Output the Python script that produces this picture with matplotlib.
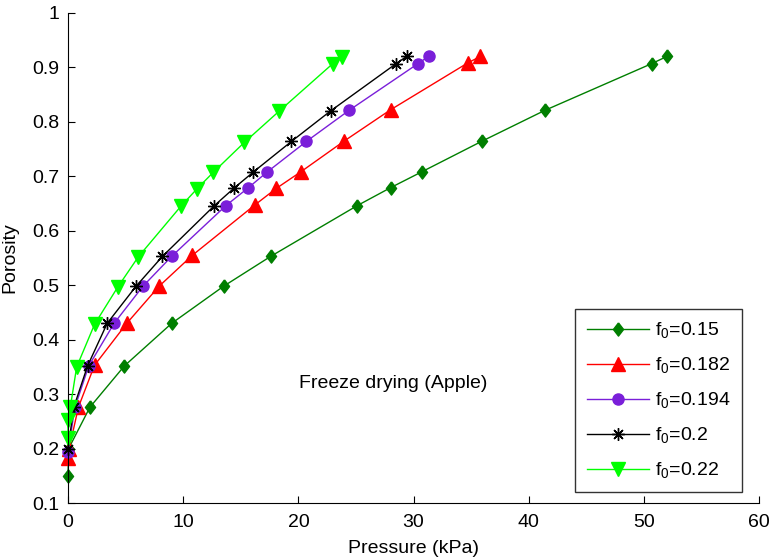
import matplotlib
matplotlib.use("Agg")
import matplotlib.pyplot as plt

# pressure (kPa) and porosity, one pair of lists per f0
p_015 = [0, 0.05, 1.9, 4.9, 9.0, 13.5, 17.6, 25.1, 28.0, 30.7, 35.9, 41.4, 50.7, 52.0]
phi_015 = [0.15, 0.2, 0.276, 0.352, 0.43, 0.498, 0.553, 0.646, 0.679, 0.708, 0.764, 0.821, 0.907, 0.92]

p_0182 = [0, 0.1, 0.9, 2.3, 5.1, 7.9, 10.8, 16.2, 18.1, 20.2, 24.0, 28.0, 34.7, 35.8]
phi_0182 = [0.182, 0.2, 0.276, 0.353, 0.43, 0.498, 0.555, 0.647, 0.678, 0.708, 0.765, 0.822, 0.908, 0.92]

p_0194 = [0, 0.6, 1.8, 4.0, 6.5, 9.0, 13.7, 15.6, 17.3, 20.7, 24.4, 30.4, 31.3]
phi_0194 = [0.194, 0.276, 0.352, 0.43, 0.498, 0.553, 0.646, 0.678, 0.708, 0.764, 0.821, 0.907, 0.92]

p_02 = [0, 0.5, 1.7, 3.4, 5.9, 8.2, 12.7, 14.4, 16.1, 19.4, 22.8, 28.5, 29.4]
phi_02 = [0.2, 0.276, 0.352, 0.43, 0.498, 0.553, 0.646, 0.678, 0.708, 0.764, 0.82, 0.907, 0.92]

p_022 = [0, 0, 0.2, 0.75, 2.3, 4.3, 6.1, 9.8, 11.2, 12.6, 15.3, 18.3, 23.0, 23.8]
phi_022 = [0.22, 0.252, 0.276, 0.35, 0.428, 0.496, 0.552, 0.645, 0.677, 0.707, 0.762, 0.819, 0.907, 0.919]

labels = [r'f$_\mathregular{0}$=0.15', r'f$_\mathregular{0}$=0.182', r'f$_\mathregular{0}$=0.194',
          r'f$_\mathregular{0}$=0.2', r'f$_\mathregular{0}$=0.22']

plt.rcParams['font.family'] = ['Liberation Sans', 'DejaVu Sans']
plt.rcParams['mathtext.fontset'] = 'custom'
plt.rcParams['mathtext.rm'] = 'Liberation Sans'

# matlab style diamond, a bit taller than wide
diamond = [(0, 1.3), (1, 0), (0, -1.3), (-1, 0), (0, 1.3)]

fig = plt.figure(figsize=(7.73, 5.59), dpi=100)
ax = fig.add_axes([0.088, 0.1, 0.894, 0.877])

ax.plot(p_015, phi_015, '-', marker=diamond, color='#007f00', markersize=9.5, lw=1,
        label=labels[0], clip_on=False)
ax.plot(p_0182, phi_0182, '-^', color='#ff0000', markersize=10, lw=1, label=labels[1], clip_on=False)
ax.plot(p_0194, phi_0194, '-o', color='#7a1fd9', markersize=8, lw=1, label=labels[2], clip_on=False)
ax.plot(p_02, phi_02, '-', color='black', marker=(8, 2, 0), markersize=9, mew=1,
        lw=1, label=labels[3], clip_on=False)
ax.plot(p_022, phi_022, '-v', color='#00ff00', markersize=10, lw=1, label=labels[4], clip_on=False)

ax.set_xlim(0, 60)
ax.set_ylim(0.1, 1)
ax.set_xticks([0, 10, 20, 30, 40, 50, 60])
ax.set_yticks([0.1, 0.2, 0.3, 0.4, 0.5, 0.6, 0.7, 0.8, 0.9, 1])
ax.set_yticklabels(['0.1', '0.2', '0.3', '0.4', '0.5', '0.6', '0.7', '0.8', '0.9', '1'])
ax.spines['top'].set_visible(False)
ax.spines['right'].set_visible(False)
ax.tick_params(direction='in', length=5, labelsize=14)
ax.tick_params(axis='x', pad=8)
ax.tick_params(axis='y', pad=6)
ax.set_xlabel('Pressure (kPa)', fontsize=14, labelpad=6)
ax.set_ylabel('Porosity', fontsize=14, labelpad=10)

ax.text(28.2, 0.32, 'Freeze drying (Apple)', fontsize=14, ha='center', va='center')

leg = ax.legend(loc='lower right', bbox_to_anchor=(0.975, 0.022), fontsize=14,
                numpoints=1, handlelength=3.2, handletextpad=0.3, fancybox=False,
                edgecolor='black', borderpad=0.6, labelspacing=0.75, borderaxespad=0)
leg.get_frame().set_linewidth(1)

fig.savefig('out.png', dpi=100)
